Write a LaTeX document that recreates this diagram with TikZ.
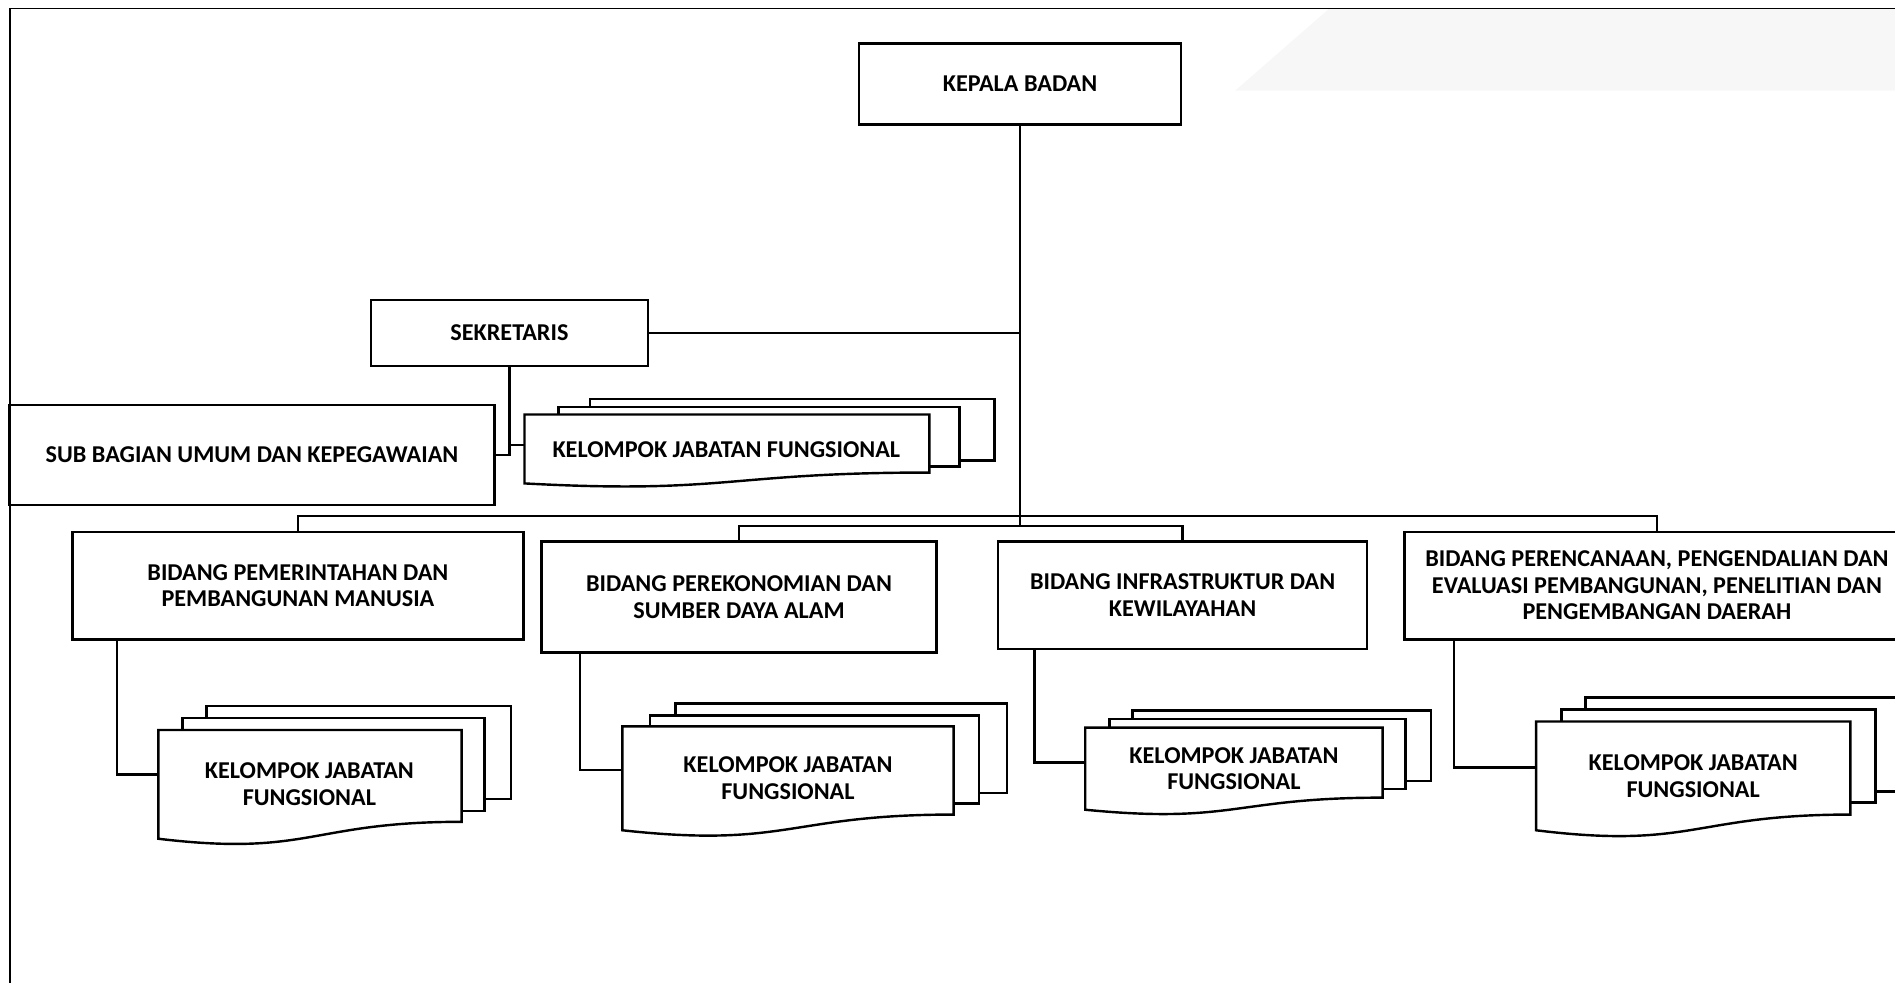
\documentclass[tikz,border=0pt]{standalone}
\usepackage{fontspec}
\setmainfont{Carlito}
\newcommand{\txt}{\bfseries\fontsize{20}{22}\selectfont}
\begin{document}
\begin{tikzpicture}[x=1pt,y=-1pt,
  box/.style={draw, line width=2pt, fill=white, align=center, inner sep=0pt, font=\txt},
  page/.style={draw, line width=2pt, fill=white, line join=miter},
  conn/.style={line width=2pt},
  lbl/.style={align=center, inner sep=0pt, font=\txt},
  frame/.style={line width=1.5pt}]
\useasboundingbox (0,0) rectangle (1568,813);
\clip (0,0) rectangle (1568,813);
% faint watermark
\fill[black!3] (1022,75) -- (1100,7) -- (1568,7) -- (1568,75) -- cycle;
% frame
\draw[frame] (8,813) -- (8,7) -- (1568,7);

% main boxes
\node[box, minimum width=266pt, minimum height=67pt] (kepala) at (844,69.5) {KEPALA BADAN};
\node[box, minimum width=229pt, minimum height=55pt] (sek) at (421.5,275.5) {SEKRETARIS};
\node[box, minimum width=401pt, minimum height=83pt] (sub) at (208.5,376.5) {SUB BAGIAN UMUM DAN KEPEGAWAIAN};
\node[box, minimum width=373pt, minimum height=89pt] (bid1) at (246.5,484.5) {BIDANG PEMERINTAHAN DAN\\PEMBANGUNAN MANUSIA};
\node[box, minimum width=327pt, minimum height=92pt] (bid2) at (611.5,494) {BIDANG PEREKONOMIAN DAN\\SUMBER DAYA ALAM};
\node[box, minimum width=305pt, minimum height=89pt] (bid3) at (978.5,492.5) {BIDANG INFRASTRUKTUR DAN\\KEWILAYAHAN};
\node[box, minimum width=418pt, minimum height=89pt] (bid4) at (1371,484.5) {BIDANG PERENCANAAN, PENGENDALIAN DAN\\EVALUASI PEMBANGUNAN, PENELITIAN DAN\\PENGEMBANGAN DAERAH};

% KJF stack under Sekretaris
\draw[page] (488,330) rectangle (823,381);
\draw[page] (462,337) rectangle (794,386);
\draw[page] (434,343) -- (769,343) -- (769,391) .. controls (601.5,391) and (601.5,409) .. (434,400) -- cycle;
\node[lbl] (kjf0) at (601,372) {KELOMPOK JABATAN FUNGSIONAL};
\coordinate (k0w) at (434,368);

% KJF stack 1
\draw[page] (171,584) rectangle (423,661);
\draw[page] (151,594) rectangle (401,671);
\draw[page] (131,604) -- (382,604) -- (382,680) .. controls (256.5,680) and (256.5,709) .. (131,694) -- cycle;
\node[lbl] (kjf1) at (256,649) {KELOMPOK JABATAN\\FUNGSIONAL};
\coordinate (k1w) at (131,641);

% KJF stack 2
\draw[page] (559,582) rectangle (833,656);
\draw[page] (538,592) rectangle (810,665);
\draw[page] (515,601) -- (789,601) -- (789,674) .. controls (652,674) and (652,702) .. (515,687) -- cycle;
\node[lbl] (kjf2) at (652,644) {KELOMPOK JABATAN\\FUNGSIONAL};
\coordinate (k2w) at (515,637);

% KJF stack 3
\draw[page] (937,588) rectangle (1184,646);
\draw[page] (918,595) rectangle (1163,653);
\draw[page] (898,602) -- (1144,602) -- (1144,660) .. controls (1021,660) and (1021,682) .. (898,670) -- cycle;
\node[lbl] (kjf3) at (1021,636) {KELOMPOK JABATAN\\FUNGSIONAL};
\coordinate (k3w) at (898,631);

% KJF stack 4
\draw[page] (1312,577) rectangle (1580,655);
\draw[page] (1292,587) rectangle (1552,664);
\draw[page] (1271,597) -- (1531,597) -- (1531,674) .. controls (1401,674) and (1401,703) .. (1271,687) -- cycle;
\node[lbl] (kjf4) at (1401,642) {KELOMPOK JABATAN\\FUNGSIONAL};
\coordinate (k4w) at (1271,635);

% connectors
\draw[conn] (kepala.south) -- ([yshift=12pt]bid2.north -| kepala.south);
\draw[conn] (sek.east) -- (sek.east -| kepala.south);
\draw[conn] (sek.south) |- (sub.east);
\draw[conn] (sek.south |- k0w) -- (k0w);
\draw[conn] (bid1.north) -- ++(0,-12) -| (bid4.north);
\draw[conn] (bid2.north) -- ++(0,-12) -| (bid3.north);
\draw[conn] ([xshift=38pt]bid1.south west) |- (k1w);
\draw[conn] ([xshift=33pt]bid2.south west) |- (k2w);
\draw[conn] ([xshift=31pt]bid3.south west) |- (k3w);
\draw[conn] ([xshift=42pt]bid4.south west) |- (k4w);
\end{tikzpicture}
\end{document}
